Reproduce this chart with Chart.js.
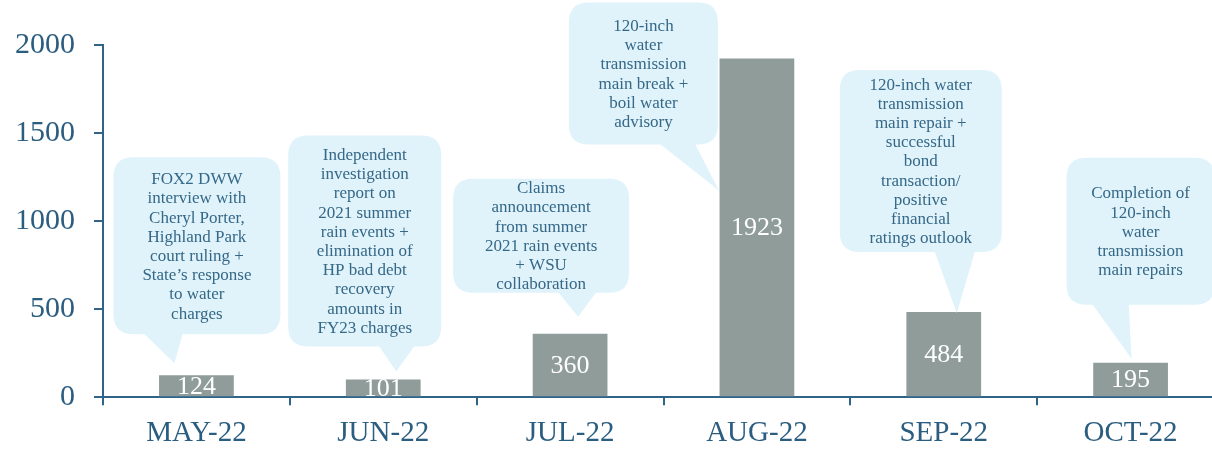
<!DOCTYPE html>
<html>
<head>
<meta charset="utf-8">
<script src="https://cdn.jsdelivr.net/npm/chart.js@4"></script>
<style>
  html, body { margin: 0; padding: 0; background: #fff; overflow: hidden; }
  #wrap { width: 1240px; height: 462px; margin-left: -16px; position: relative; }
</style>
</head>
<body>
<div id="wrap"><canvas id="claimsChart"></canvas></div>
<script>
// monthly claims with the event behind each spike
const months = ['MAY-22', 'JUN-22', 'JUL-22', 'AUG-22', 'SEP-22', 'OCT-22'];
const claims = [124, 101, 360, 1923, 484, 195];
const yTicks = [0, 500, 1000, 1500, 2000];

const events = [
  ['FOX2 DWW', 'interview with', 'Cheryl Porter,', 'Highland Park', 'court ruling +', 'State\u2019s response', 'to water', 'charges'],
  ['Independent', 'investigation', 'report on', '2021 summer', 'rain events +', 'elimination of', 'HP bad debt', 'recovery', 'amounts in', 'FY23 charges'],
  ['Claims', 'announcement', 'from summer', '2021 rain events', '+ WSU', 'collaboration'],
  ['120-inch', 'water', 'transmission', 'main break +', 'boil water', 'advisory'],
  ['120-inch water', 'transmission', 'main repair +', 'successful', 'bond', 'transaction/', 'positive', 'financial', 'ratings outlook'],
  ['Completion of', '120-inch', 'water', 'transmission', 'main repairs']
];

// bubble geometry, offsets in px from the top-centre of each bar
const bubbleLayout = [
  { box: [-83, -218, 84, -41],    base: [-55, -13],   tip: [-22, -12] },
  { box: [-95, -244, 58, -33],    base: [-6, 33],     tip: [13, -8] },
  { box: [-117, -155, 59, -41],   base: [-14, 28],    tip: [8, -17] },
  { box: [-188, -56, -39, 86],    base: [-100, -63],  tip: [-38, 132] },
  { box: [-104, -242, 58, -60],   base: [-10, 32],    tip: [13, 1] },
  { box: [-64, -205, 84, -58],    base: [-40, -2],    tip: [1, -4] }
];

const axisColor = '#2f6488';
const textColor = '#2a5d80';
const bubbleFill = '#e0f3fb';
const bubbleText = '#356887';
const barColor = '#8f9c9a';
const serif = "'Liberation Serif', 'DejaVu Serif', serif";

function roundRect(ctx, l, t, r, b, rad) {
  ctx.beginPath();
  ctx.moveTo(l + rad, t);
  ctx.lineTo(r - rad, t);
  ctx.quadraticCurveTo(r, t, r, t + rad);
  ctx.lineTo(r, b - rad);
  ctx.quadraticCurveTo(r, b, r - rad, b);
  ctx.lineTo(l + rad, b);
  ctx.quadraticCurveTo(l, b, l, b - rad);
  ctx.lineTo(l, t + rad);
  ctx.quadraticCurveTo(l, t, l + rad, t);
  ctx.closePath();
}

const calloutPlugin = {
  id: 'callouts',
  afterDatasetsDraw(chart) {
    const ctx = chart.ctx;
    const bars = chart.getDatasetMeta(0).data;
    ctx.save();

    // value inside each bar
    ctx.fillStyle = '#ffffff';
    ctx.font = '26px ' + serif;
    ctx.textAlign = 'center';
    ctx.textBaseline = 'middle';
    bars.forEach((bar, i) => {
      ctx.fillText(String(claims[i]), bar.x, (bar.y + bar.base) / 2 + 1);
    });

    // speech bubbles
    bars.forEach((bar, i) => {
      const lay = bubbleLayout[i];
      const l = bar.x + lay.box[0], t = bar.y + lay.box[1];
      const r = bar.x + lay.box[2], b = bar.y + lay.box[3];
      ctx.fillStyle = bubbleFill;
      roundRect(ctx, l, t, r, b, 20);
      ctx.fill();
      ctx.beginPath();
      ctx.moveTo(bar.x + lay.base[0], b - 3);
      ctx.lineTo(bar.x + lay.base[1], b - 3);
      ctx.lineTo(bar.x + lay.tip[0], bar.y + lay.tip[1]);
      ctx.closePath();
      ctx.fill();

      const lines = events[i];
      const lh = 19.2;
      const cx = (l + r) / 2;
      const cy = (t + b) / 2 + 1;
      const y0 = cy - (lines.length - 1) * lh / 2;
      ctx.fillStyle = bubbleText;
      ctx.font = '17px ' + serif;
      lines.forEach((line, k) => ctx.fillText(line, cx, y0 + k * lh));
    });
    ctx.restore();
  }
};

new Chart(document.getElementById('claimsChart').getContext('2d'), {
  type: 'bar',
  data: {
    labels: months,
    datasets: [{
      data: claims,
      backgroundColor: barColor,
      borderWidth: 0,
      barPercentage: 0.8,
      categoryPercentage: 0.5
    }]
  },
  options: {
    responsive: true,
    maintainAspectRatio: false,
    animation: false,
    layout: { padding: { top: 45, left: 12, right: 0, bottom: 0 } },
    plugins: {
      legend: { display: false },
      tooltip: { enabled: false }
    },
    scales: {
      x: {
        grid: { drawOnChartArea: false, tickLength: 8, color: axisColor, lineWidth: 2 },
        border: { color: axisColor, width: 2 },
        ticks: { color: textColor, padding: 11, font: { family: serif, size: 29 } }
      },
      y: {
        min: 0,
        max: 2000,
        afterBuildTicks(scale) { scale.ticks = yTicks.map(v => ({ value: v })); },
        grid: { drawOnChartArea: false, tickLength: 9, color: axisColor, lineWidth: 2 },
        border: { color: axisColor, width: 2 },
        ticks: {
          color: textColor,
          padding: 19,
          font: { family: serif, size: 30 },
          callback: v => String(v)
        }
      }
    }
  },
  plugins: [calloutPlugin]
});
</script>
</body>
</html>
